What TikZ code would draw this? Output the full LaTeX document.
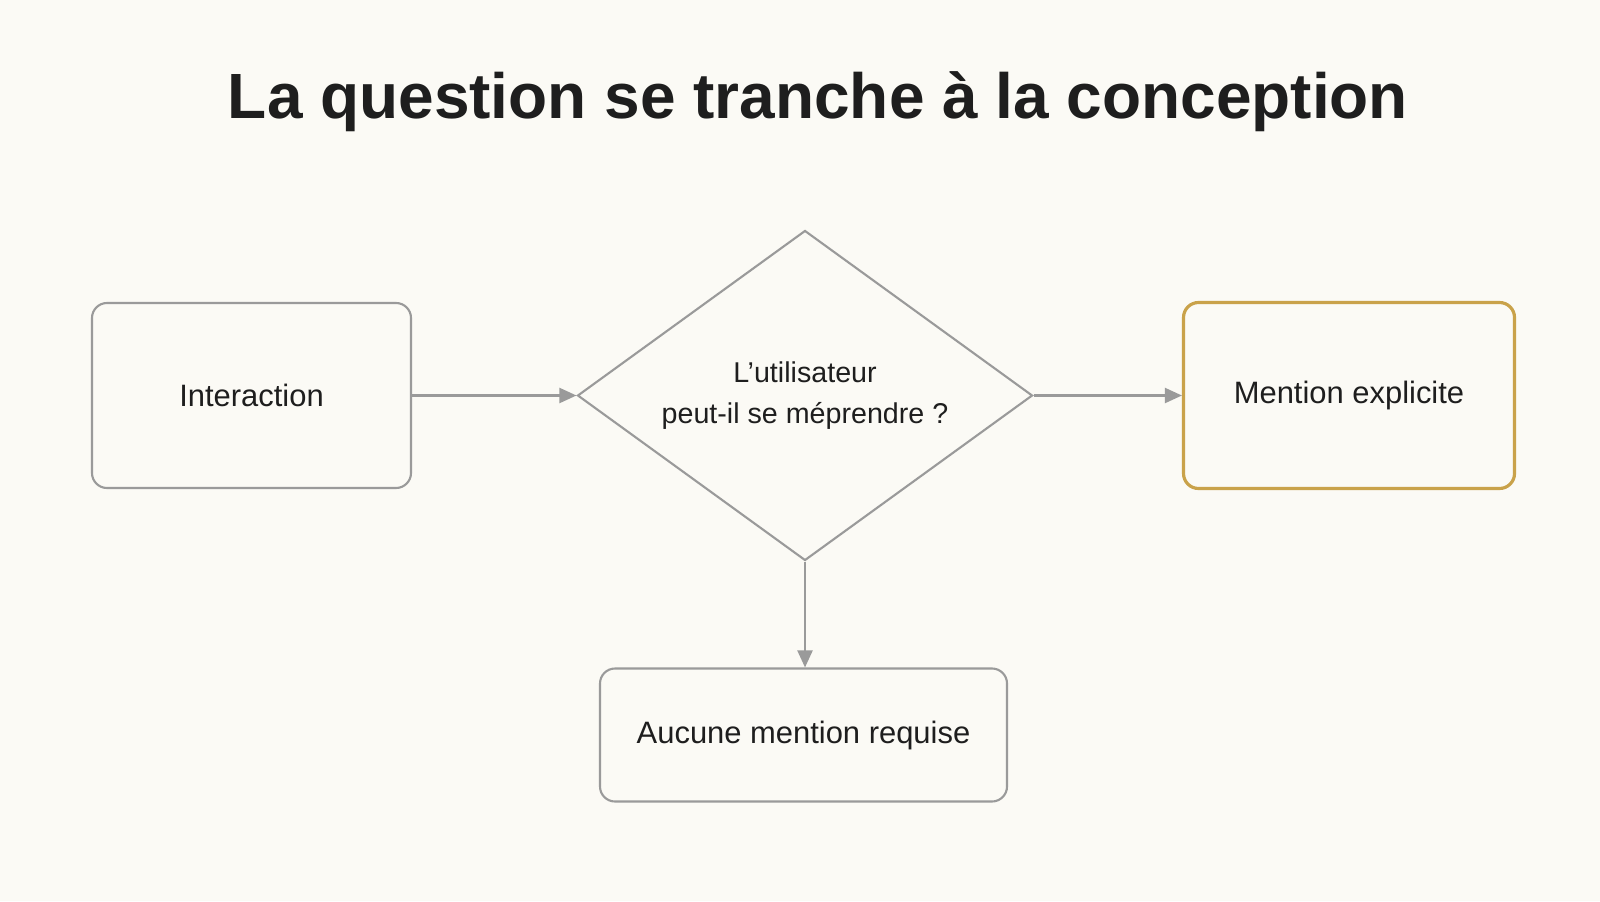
\documentclass[tikz,border=0pt]{standalone}
\usepackage{fontspec}
\setmainfont{Liberation Sans}
\usetikzlibrary{shapes.geometric,arrows.meta}
\definecolor{paper}{HTML}{FBFAF5}
\definecolor{linegray}{HTML}{9A9A9A}
\definecolor{gold}{HTML}{C9A24A}
\definecolor{ink}{HTML}{1E1E1E}
\begin{document}
\begin{tikzpicture}[
  box/.style={draw=linegray, line width=0.6pt, rounded corners=0.15cm, text=ink,
    font=\fontsize{8.8}{10}\selectfont},
  flow/.style={draw=linegray, line width=0.6pt, -{Triangle[length=0.17cm,width=0.15cm]}}
]
\fill [paper] (0,0) rectangle (16,-9.01);
\useasboundingbox (0,0) rectangle (16,-9.01);
\node [text=ink, font=\fontsize{18.2}{20}\selectfont\bfseries] (title) at (8.18,-1.02) {La question se tranche à la conception};
\node [box, minimum width=3.19cm, minimum height=1.85cm] (inter) at (2.515,-3.955) {Interaction};
\node [diamond, aspect=1.38, draw=linegray, line width=0.6pt, inner sep=0pt, minimum width=4.55cm, minimum height=3.30cm,
  text=ink, align=center, font=\fontsize{8.15}{11.85}\selectfont] (quest) at (8.05,-3.955) {L’utilisateur\\peut-il se méprendre ?};
\node [box, draw=gold, line width=0.9pt, minimum width=3.31cm, minimum height=1.86cm] (explicit) at (13.49,-3.955) {Mention explicite};
\node [box, minimum width=4.07cm, minimum height=1.33cm] (none) at (8.035,-7.35) {Aucune mention requise};
\draw [flow] (inter) -- (quest);
\draw [flow] (quest) -- (explicit);
\draw [flow] (quest.south) -- (quest.south |- none.north);
\end{tikzpicture}
\end{document}
